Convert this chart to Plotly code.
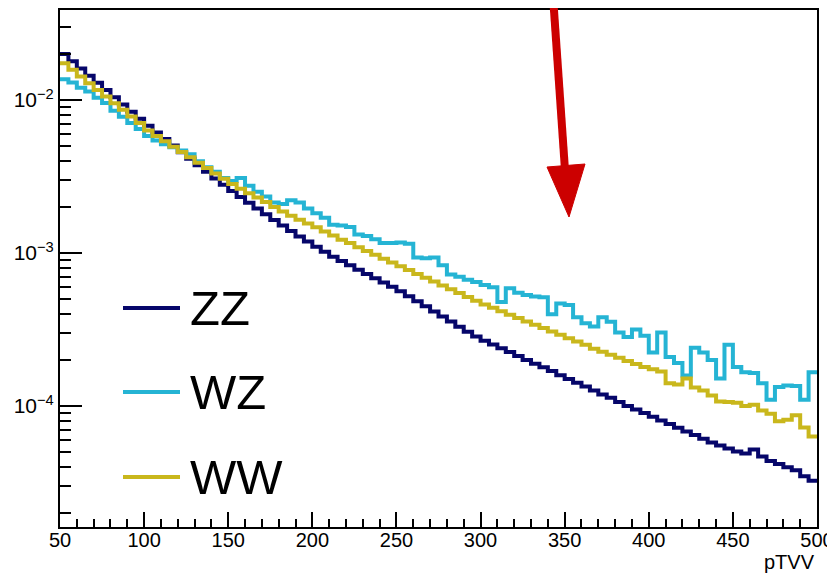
import plotly.graph_objects as go

# Histogram binning: 90 bins of width 5 between 50 and 500 (pTVV)
BIN_LO = 50
BIN_W = 5
N_BINS = 90

ZZ = [2.00e-2, 1.79e-2, 1.607e-2, 1.442e-2, 1.294e-2, 1.161e-2, 1.042e-2, 9.35e-3, 8.39e-3, 7.53e-3,
      6.79e-3, 6.14e-3, 5.56e-3, 5.04e-3, 4.56e-3, 4.13e-3, 3.74e-3, 3.39e-3, 3.07e-3, 2.79e-3,
      2.54e-3, 2.32e-3, 2.13e-3, 1.95e-3, 1.79e-3, 1.64e-3, 1.51e-3, 1.39e-3, 1.28e-3, 1.19e-3,
      1.10e-3, 1.02e-3, 9.44e-4, 8.85e-4, 8.30e-4, 7.78e-4, 7.29e-4, 6.84e-4, 6.41e-4, 6.01e-4,
      5.62e-4, 5.21e-4, 4.83e-4, 4.48e-4, 4.15e-4, 3.85e-4, 3.56e-4, 3.30e-4, 3.06e-4, 2.84e-4,
      2.67e-4, 2.52e-4, 2.38e-4, 2.25e-4, 2.12e-4, 2.00e-4, 1.89e-4, 1.79e-4, 1.69e-4, 1.59e-4,
      1.50e-4, 1.42e-4, 1.34e-4, 1.26e-4, 1.19e-4, 1.13e-4, 1.06e-4, 1.00e-4, 9.48e-5, 8.99e-5,
      8.51e-5, 8.05e-5, 7.62e-5, 7.21e-5, 6.82e-5, 6.46e-5, 6.11e-5, 5.78e-5, 5.52e-5, 5.27e-5,
      5.04e-5, 4.90e-5, 5.19e-5, 4.68e-5, 4.37e-5, 4.17e-5, 3.98e-5, 3.80e-5, 3.47e-5, 3.24e-5]

WZ = [1.365e-2, 1.30e-2, 1.20e-2, 1.135e-2, 1.035e-2, 9.55e-3, 8.51e-3, 7.76e-3, 7.08e-3, 6.46e-3,
      5.82e-3, 5.43e-3, 5.13e-3, 4.90e-3, 4.68e-3, 4.42e-3, 3.98e-3, 3.63e-3, 3.39e-3, 3.09e-3,
      2.95e-3, 3.09e-3, 2.75e-3, 2.51e-3, 2.34e-3, 2.14e-3, 2.09e-3, 2.21e-3, 2.14e-3, 1.95e-3,
      1.82e-3, 1.70e-3, 1.53e-3, 1.51e-3, 1.48e-3, 1.32e-3, 1.29e-3, 1.23e-3, 1.16e-3, 1.16e-3,
      1.17e-3, 1.15e-3, 9.33e-4, 9.23e-4, 9.33e-4, 8.32e-4, 7.24e-4, 7.00e-4, 6.68e-4, 6.46e-4,
      6.17e-4, 5.96e-4, 4.79e-4, 5.89e-4, 5.50e-4, 5.31e-4, 5.19e-4, 5.13e-4, 3.98e-4, 4.68e-4,
      4.57e-4, 3.80e-4, 3.47e-4, 3.31e-4, 3.80e-4, 3.55e-4, 3.02e-4, 2.82e-4, 3.16e-4, 2.88e-4,
      2.24e-4, 3.02e-4, 2.09e-4, 1.91e-4, 1.58e-4, 2.40e-4, 2.24e-4, 2.00e-4, 1.51e-4, 2.51e-4,
      1.80e-4, 1.66e-4, 1.64e-4, 1.41e-4, 1.10e-4, 1.33e-4, 1.36e-4, 1.35e-4, 1.10e-4, 1.66e-4]

WW = [1.738e-2, 1.574e-2, 1.422e-2, 1.288e-2, 1.164e-2, 1.054e-2, 9.53e-3, 8.63e-3, 7.80e-3, 7.06e-3,
      6.31e-3, 5.82e-3, 5.37e-3, 4.95e-3, 4.57e-3, 4.22e-3, 3.89e-3, 3.59e-3, 3.31e-3, 3.05e-3,
      2.82e-3, 2.63e-3, 2.46e-3, 2.30e-3, 2.15e-3, 2.00e-3, 1.87e-3, 1.75e-3, 1.65e-3, 1.56e-3,
      1.47e-3, 1.38e-3, 1.30e-3, 1.22e-3, 1.16e-3, 1.09e-3, 1.03e-3, 9.72e-4, 9.18e-4, 8.67e-4,
      8.18e-4, 7.73e-4, 7.29e-4, 6.89e-4, 6.50e-4, 6.14e-4, 5.79e-4, 5.47e-4, 5.16e-4, 4.88e-4,
      4.60e-4, 4.38e-4, 4.16e-4, 3.95e-4, 3.76e-4, 3.57e-4, 3.40e-4, 3.23e-4, 3.07e-4, 2.92e-4,
      2.77e-4, 2.64e-4, 2.51e-4, 2.37e-4, 2.26e-4, 2.16e-4, 2.07e-4, 1.97e-4, 1.88e-4, 1.80e-4,
      1.74e-4, 1.68e-4, 1.41e-4, 1.38e-4, 1.51e-4, 1.32e-4, 1.26e-4, 1.17e-4, 1.07e-4, 1.06e-4,
      1.05e-4, 1.00e-4, 1.02e-4, 9.33e-5, 8.91e-5, 7.94e-5, 8.13e-5, 8.71e-5, 7.24e-5, 6.31e-5]

SERIES = ["ZZ", "WZ", "WW"]
COLORS = {"ZZ": "#06066a", "WZ": "#25b4d4", "WW": "#c9b71c"}
VALUES = {"ZZ": ZZ, "WZ": WZ, "WW": WW}

Y_TICKS = [1e-4, 1e-3, 1e-2]
Y_TICKTEXT = ["10<sup>\u22124</sup>", "10<sup>\u22123</sup>", "10<sup>\u22122</sup>"]

edges = [BIN_LO + BIN_W * i for i in range(N_BINS + 1)]

fig = go.Figure()
for name in SERIES:
    vals = VALUES[name]
    fig.add_trace(go.Scatter(
        x=edges, y=vals + [vals[-1]], mode="lines", name=name,
        line=dict(color=COLORS[name], width=4, shape="hv"),
        showlegend=False, hoverinfo="skip"))

# Layout in pixels (page body has an 8px margin, so the figure is 8px smaller
# and its margins are shifted to keep the frame at the reference position)
OFF = 8
W, H = 835 - OFF, 573 - OFF
L, R, T, B = 60 - OFF, 18, 10 - OFF, 46
PW, PH = W - L - R, H - T - B

def px(x):
    # x in page pixels -> paper coordinate
    return (x - OFF - L) / PW

def py(y):
    # y in page pixels -> paper coordinate
    return (H - B - (y - OFF)) / PH

font_main = "Liberation Sans, Arial, Helvetica, sans-serif"

fig.update_layout(
    width=W, height=H,
    margin=dict(l=L, r=R, t=T, b=B, pad=0, autoexpand=False),
    paper_bgcolor="white", plot_bgcolor="white",
    font=dict(family=font_main, size=20, color="black"),
    xaxis=dict(
        range=[50, 500], showgrid=False, zeroline=False, automargin=False,
        showline=True, linecolor="black", linewidth=2, mirror=True,
        ticks="inside", ticklen=15, tickwidth=1.5, tickcolor="black",
        tickmode="linear", tick0=50, dtick=50, ticklabelstandoff=-6,
        tickfont=dict(size=20, family=font_main),
        minor=dict(ticks="inside", ticklen=8, tickwidth=1.5, tickcolor="black", dtick=10, showgrid=False),
    ),
    yaxis=dict(
        type="log", range=[-4.791, -1.412], showgrid=False, zeroline=False, automargin=False,
        showline=True, linecolor="black", linewidth=2, mirror=True,
        ticks="inside", ticklen=22, tickwidth=1.5, tickcolor="black",
        tickmode="array", tickvals=Y_TICKS, ticktext=Y_TICKTEXT,
        tickfont=dict(size=21, family=font_main),
        minor=dict(ticks="inside", ticklen=11, tickwidth=1.5, tickcolor="black", dtick="D1", showgrid=False),
    ),
)

shapes = []
annotations = []

# Legend drawn inside the frame
legend_rows = [("ZZ", 308), ("WZ", 392), ("WW", 477)]
for name, ypix in legend_rows:
    shapes.append(dict(type="line", xref="paper", yref="paper",
                       x0=px(123), x1=px(180), y0=py(ypix), y1=py(ypix),
                       line=dict(color=COLORS[name], width=4)))
    annotations.append(dict(text=name, xref="paper", yref="paper",
                            x=px(188), y=py(ypix), xanchor="left", yanchor="middle",
                            showarrow=False, font=dict(size=49, family=font_main, color="black")))

# Axis title
annotations.append(dict(text="pTVV", xref="paper", yref="paper", x=1.0, y=py(562),
                        xanchor="right", yanchor="middle", showarrow=False,
                        font=dict(size=20, family=font_main, color="black")))

# Red arrow
RED = "#cc0000"
shapes.append(dict(type="line", xref="paper", yref="paper",
                   x0=px(553), y0=py(-4), x1=px(565), y1=py(170),
                   line=dict(color=RED, width=8)))
shapes.append(dict(type="path", xref="paper", yref="paper",
                   path=f"M {px(547)} {py(167)} L {px(585)} {py(164)} L {px(569)} {py(217)} Z",
                   fillcolor=RED, line=dict(color=RED, width=1)))

fig.update_layout(shapes=shapes, annotations=annotations)

fig.write_html("out.html")
